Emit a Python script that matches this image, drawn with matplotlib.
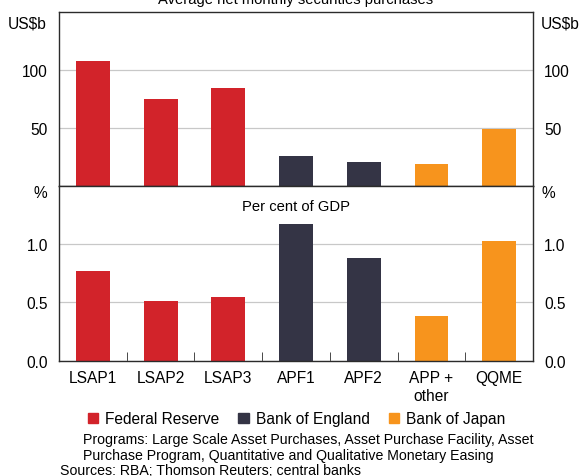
import numpy as np
import matplotlib
matplotlib.use('Agg')
import matplotlib.pyplot as plt
from matplotlib.patches import Patch

plt.rcParams['font.family'] = ['Liberation Sans', 'DejaVu Sans']

# --- data ---
programs = ['LSAP1', 'LSAP2', 'LSAP3', 'APF1', 'APF2', 'APP +\nother', 'QQME']
bank = ['Federal Reserve', 'Federal Reserve', 'Federal Reserve',
        'Bank of England', 'Bank of England', 'Bank of Japan', 'Bank of Japan']
purchases_usd = [107.5, 75.0, 84.0, 25.8, 20.5, 18.8, 49.3]   # US$b per month
purchases_gdp = [0.77, 0.51, 0.545, 1.17, 0.88, 0.38, 1.025]   # per cent of GDP

bank_colors = {'Federal Reserve': '#d2232a',
               'Bank of England': '#343445',
               'Bank of Japan': '#f7941d'}
colors = [bank_colors[b] for b in bank]

fig = plt.figure(figsize=(5.86, 4.77), dpi=100)
ax1 = fig.add_axes([0.1007, 0.6086, 0.8089, 0.3648])
ax2 = fig.add_axes([0.1007, 0.2417, 0.8089, 0.3669])

x = np.arange(len(programs))
FS = 11.2
TFS = 10.6  # panel titles

def style(ax, ylim, yticks, fmt):
    ax.set_xlim(-0.5, len(programs) - 0.5)
    ax.set_ylim(*ylim)
    ax.set_yticks(yticks)
    ax.set_yticklabels([fmt.format(v) for v in yticks], fontsize=FS)
    ax.tick_params(axis='y', length=0, pad=8, labelleft=True, labelright=True)
    ax.grid(axis='y', color='#c8c8c8', linewidth=0.9)
    ax.set_axisbelow(True)
    for s in ax.spines.values():
        s.set_color('#2b2b2b')
        s.set_linewidth(1.0)

ax1.bar(x, purchases_usd, width=0.5, color=colors, zorder=2)
style(ax1, (0, 150), [50, 100], '{:.0f}')
ax1.set_xticks([])

ax2.bar(x, purchases_gdp, width=0.5, color=colors, zorder=2)
style(ax2, (0, 1.5), [0.0, 0.5, 1.0], '{:.1f}')
ax2.set_xticks(x)
ax2.set_xticklabels(programs, fontsize=FS, linespacing=1.25)
ax2.tick_params(axis='x', which='major', length=0, pad=7)
ax2.set_xticks(np.arange(0.5, len(programs) - 1), minor=True)
ax2.tick_params(axis='x', which='minor', direction='in', length=6.5, color='#2b2b2b')

# unit labels
fig.text(47 / 586, 1 - 24 / 477, 'US$b', ha='right', va='center', fontsize=FS)
fig.text(541 / 586, 1 - 24 / 477, 'US$b', ha='left', va='center', fontsize=FS)
fig.text(47 / 586, 1 - 193 / 477, '%', ha='right', va='center', fontsize=FS)
fig.text(541 / 586, 1 - 193 / 477, '%', ha='left', va='center', fontsize=FS)

# panel titles
fig.text(0.505, 1 - 4 / 477, 'Average net monthly securities purchases',
         ha='center', va='baseline', fontsize=TFS)
fig.text(0.505, 1 - 207 / 477, 'Per cent of GDP', ha='center', va='center', fontsize=TFS)

# legend
handles = [Patch(color=bank_colors[b], label=b) for b in bank_colors]
fig.legend(handles=handles, loc='center', bbox_to_anchor=(0.506, 1 - 420 / 477),
           ncol=3, frameon=False, fontsize=FS, handlelength=0.65, handleheight=0.65,
           handletextpad=0.45, columnspacing=1.25, borderaxespad=0)

# notes
NFS = 10.2
fig.text(83 / 586, 1 - 440 / 477,
         'Programs: Large Scale Asset Purchases, Asset Purchase Facility, Asset',
         ha='left', va='center', fontsize=NFS)
fig.text(83 / 586, 1 - 456 / 477,
         'Purchase Program, Quantitative and Qualitative Monetary Easing',
         ha='left', va='center', fontsize=NFS)
fig.text(60 / 586, 1 - 471 / 477, 'Sources: RBA; Thomson Reuters; central banks',
         ha='left', va='center', fontsize=NFS)

fig.savefig('out.png', dpi=100)
